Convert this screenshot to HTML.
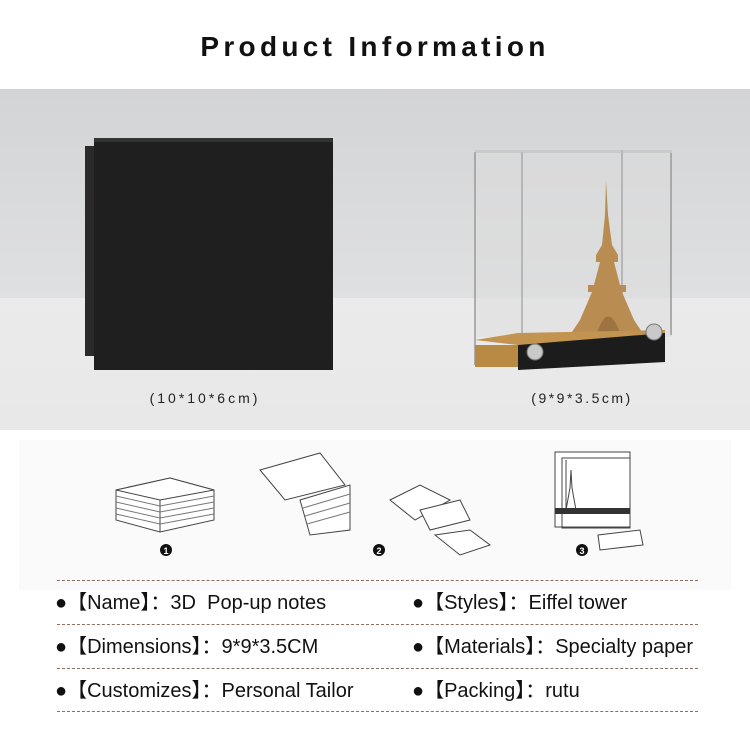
<!DOCTYPE html>
<html><head><meta charset="utf-8"><style>
*{margin:0;padding:0}
body{width:750px;height:750px;background:#fff;position:relative;overflow:hidden;font-family:"Liberation Sans",sans-serif}
.t{position:absolute;left:0;width:750px;top:31px;text-align:center;font-size:28px;font-weight:bold;letter-spacing:4.3px;color:#111}
.row{position:absolute;font-family:"Liberation Sans Narrow","Liberation Sans",sans-serif;font-size:20px;color:#111;white-space:pre}
.dash{position:absolute;left:57px;width:641px;border-top:1.5px dashed #8a6f62}
</style></head><body>
<div class="t">Product Information</div>
<svg style="position:absolute;left:0;top:0" width="750" height="750">
<defs>
<linearGradient id="w" x1="0" y1="0" x2="0" y2="1"><stop offset="0" stop-color="#d3d4d6"/><stop offset="1" stop-color="#dfe0e1"/></linearGradient>
<linearGradient id="tb" x1="0" y1="0" x2="0" y2="1"><stop offset="0" stop-color="#ebebeb"/><stop offset="1" stop-color="#e8e8e8"/></linearGradient>
</defs>
<rect x="0" y="89" width="750" height="211" fill="url(#w)"/>
<rect x="0" y="298" width="750" height="132" fill="url(#tb)"/>
<rect x="19" y="440" width="712" height="150" fill="#fafafa"/>
<!-- box -->
<rect x="85" y="146" width="12" height="210" fill="#2a2a2a"/>
<rect x="94" y="138" width="239" height="232" fill="#1f1f1f"/>
<rect x="94" y="138" width="239" height="4" fill="#333"/>
<!-- display -->
<rect x="475" y="152" width="197" height="185" fill="#dcdcdc" opacity="0.5"/>
<line x1="475" y1="152" x2="475" y2="365" stroke="#999" stroke-width="1.5"/>
<line x1="522" y1="152" x2="522" y2="365" stroke="#aaa" stroke-width="1.5"/>
<line x1="622" y1="150" x2="622" y2="330" stroke="#aaa" stroke-width="1.5"/>
<line x1="671" y1="153" x2="671" y2="335" stroke="#999" stroke-width="1.5"/>
<rect x="475" y="150" width="197" height="3" fill="#bbb" opacity="0.5"/>
<polygon points="606,180 608,215 612,245 618,255 618,262 614,262 620,285 626,285 626,292 622,292 634,320 642,332 572,332 580,320 592,292 588,292 588,285 594,285 600,262 596,262 596,255 602,245 605,215" fill="#b98c52"/>
<path d="M597 333 Q608 300 620 333 Z" fill="#9f7341"/>
<polygon points="475,340 518,333 665,330 665,337 518,345" fill="#c29450"/>
<rect x="475" y="345" width="45" height="22" fill="#b88a44"/>
<polygon points="518,345 665,333 665,362 518,370" fill="#1c1c1c"/>
<circle cx="535" cy="352" r="8" fill="#c9c9c9" stroke="#777"/>
<circle cx="654" cy="332" r="8" fill="#c9c9c9" stroke="#777"/>
<text x="205" y="403" text-anchor="middle" font-size="14" letter-spacing="3" fill="#222" font-family="Liberation Sans">(10*10*6cm)</text>
<text x="582" y="403" text-anchor="middle" font-size="14" letter-spacing="2.5" fill="#222" font-family="Liberation Sans">(9*9*3.5cm)</text>
<!-- illustrations -->
<g fill="#fff" stroke="#444" stroke-width="1">
<polygon points="116,490 170,478 214,490 214,520 160,532 116,520"/>
<polygon points="116,490 160,500 214,490 170,478"/>
<line x1="160" y1="500" x2="160" y2="532"/>
<path d="M116 496 L160 506 L214 496 M116 502 L160 512 L214 502 M116 508 L160 518 L214 508 M116 514 L160 524 L214 514" fill="none" stroke="#777"/>
<polygon points="260,470 320,453 345,485 285,500"/>
<polygon points="300,500 350,485 350,530 310,535"/>
<path d="M303 508 L350 494 M305 516 L350 503 M307 524 L350 512" fill="none" stroke="#777"/>
<polygon points="390,500 420,485 450,500 415,520"/>
<polygon points="420,510 460,500 470,520 430,530"/>
<polygon points="435,535 470,530 490,545 460,555"/>
<rect x="555" y="452" width="75" height="75"/>
<rect x="562" y="458" width="68" height="70" fill="none"/>
<line x1="566" y1="460" x2="566" y2="510"/>
<path d="M566 510 L570 488 L571 470 L572 488 L576 510" fill="none"/>
<polygon points="598,535 640,530 643,545 600,550"/>
</g>
<rect x="555" y="508" width="75" height="6" fill="#333"/>
<circle cx="166" cy="550" r="6" fill="#111"/><circle cx="379" cy="550" r="6" fill="#111"/><circle cx="582" cy="550" r="6" fill="#111"/>
<text x="166" y="554" text-anchor="middle" font-size="9" fill="#fff" font-weight="bold">1</text>
<text x="379" y="554" text-anchor="middle" font-size="9" fill="#fff" font-weight="bold">2</text>
<text x="582" y="554" text-anchor="middle" font-size="9" fill="#fff" font-weight="bold">3</text>
</svg>
<div class="dash" style="top:580px"></div>
<div class="dash" style="top:624px"></div>
<div class="dash" style="top:668px"></div>
<div class="dash" style="top:711px"></div>
<div class="row" style="left:55px;top:586px">●【Name】：3D  Pop-up notes</div>
<div class="row" style="left:412px;top:586px">●【Styles】：Eiffel tower</div>
<div class="row" style="left:55px;top:630px">●【Dimensions】：9*9*3.5CM</div>
<div class="row" style="left:412px;top:630px">●【Materials】：Specialty paper</div>
<div class="row" style="left:55px;top:674px">●【Customizes】：Personal Tailor</div>
<div class="row" style="left:412px;top:674px">●【Packing】：rutu</div>
</body></html>
